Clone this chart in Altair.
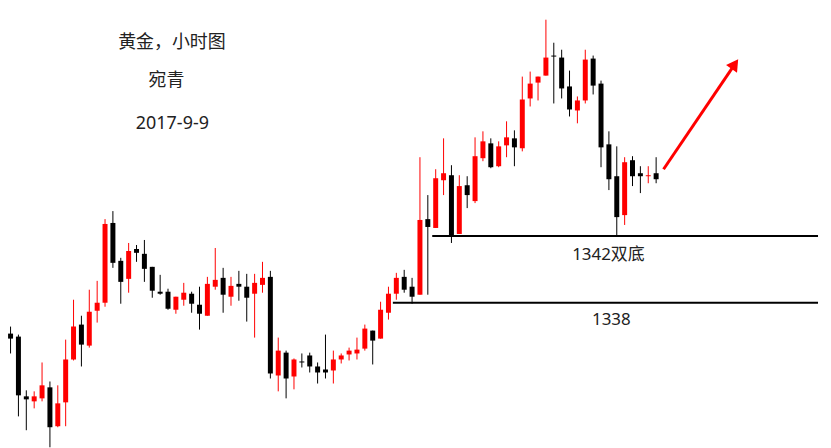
import altair as alt
import pandas as pd

# Hourly gold candles (price, USD/oz)
opens = [1336.15, 1335.97, 1332.39, 1332.09, 1332.27, 1332.93, 1330.60, 1332.03, 1334.60, 1336.69,
         1335.43, 1337.52, 1338.00, 1342.78, 1340.51, 1339.43, 1341.22, 1340.93, 1340.15, 1338.66,
         1338.66, 1337.58, 1338.18, 1338.54, 1337.88, 1337.22, 1338.96, 1339.49, 1338.36, 1339.13,
         1338.96, 1338.54, 1339.07, 1339.55, 1333.64, 1335.01, 1333.58, 1334.48, 1334.84, 1334.18,
         1334.00, 1333.94, 1334.60, 1334.90, 1334.96, 1335.25, 1336.33, 1335.85, 1337.40, 1338.54,
         1339.55, 1338.96, 1338.48, 1343.01, 1342.48, 1345.34, 1345.64, 1342.12, 1345.04, 1344.09,
         1346.66, 1347.55, 1346.18, 1347.43, 1347.85, 1347.25, 1350.24, 1351.19, 1351.61, 1352.81,
         1352.69, 1350.96, 1349.52, 1350.12, 1352.63, 1351.13, 1347.49, 1345.58, 1343.25, 1346.54,
         1345.76, 1345.58, 1345.76]
highs = [1336.57, 1336.09, 1332.75, 1332.69, 1334.42, 1333.28, 1333.05, 1335.79, 1338.18, 1337.22,
         1338.78, 1339.31, 1343.01, 1343.49, 1340.69, 1341.58, 1341.46, 1341.76, 1340.15, 1339.67,
         1338.84, 1338.36, 1339.19, 1338.66, 1338.96, 1339.55, 1341.28, 1340.09, 1339.55, 1339.91,
         1339.73, 1339.73, 1340.45, 1339.91, 1335.91, 1335.13, 1334.66, 1334.96, 1335.01, 1334.42,
         1336.09, 1335.13, 1334.96, 1335.31, 1335.91, 1336.69, 1336.33, 1338.06, 1338.96, 1339.79,
         1339.97, 1339.49, 1346.72, 1344.45, 1346.00, 1347.85, 1346.24, 1345.64, 1345.58, 1347.91,
         1348.27, 1347.85, 1347.67, 1348.87, 1348.33, 1351.55, 1351.85, 1351.55, 1354.96, 1353.58,
         1353.16, 1351.91, 1350.36, 1353.16, 1352.81, 1351.31, 1348.27, 1347.37, 1346.72, 1346.78,
         1346.18, 1346.18, 1346.72]
lows = [1334.96, 1331.19, 1330.36, 1331.67, 1332.09, 1329.34, 1330.54, 1330.60, 1334.54, 1334.18,
        1335.31, 1336.81, 1337.76, 1340.09, 1337.94, 1338.60, 1340.45, 1339.25, 1338.30, 1338.48,
        1337.58, 1337.34, 1337.82, 1337.40, 1336.39, 1337.22, 1338.78, 1337.40, 1337.82, 1338.12,
        1336.87, 1335.91, 1338.60, 1333.46, 1332.69, 1332.27, 1332.81, 1334.12, 1333.82, 1333.16,
        1333.46, 1333.16, 1334.36, 1334.54, 1334.60, 1335.13, 1334.30, 1335.85, 1336.99, 1338.18,
        1338.60, 1337.94, 1338.48, 1338.48, 1342.48, 1344.45, 1341.58, 1342.12, 1343.67, 1343.97,
        1346.48, 1346.06, 1346.12, 1346.72, 1346.18, 1347.07, 1349.76, 1350.12, 1351.61, 1349.94,
        1350.24, 1349.16, 1348.75, 1349.94, 1350.48, 1346.12, 1344.75, 1342.00, 1342.66, 1344.99,
        1344.57, 1345.16, 1345.16]
closes = [1335.85, 1332.45, 1332.21, 1332.39, 1333.05, 1330.54, 1331.97, 1334.60, 1336.57, 1335.49,
          1337.46, 1338.00, 1342.72, 1340.39, 1339.25, 1341.10, 1340.99, 1340.03, 1338.72, 1338.54,
          1337.64, 1338.36, 1338.60, 1337.94, 1337.34, 1339.13, 1339.37, 1338.48, 1339.01, 1338.96,
          1338.30, 1339.19, 1339.49, 1333.76, 1335.13, 1333.46, 1334.60, 1334.42, 1334.18, 1333.82,
          1333.82, 1334.60, 1334.84, 1335.13, 1335.19, 1336.45, 1335.73, 1337.58, 1338.54, 1339.49,
          1338.78, 1338.36, 1342.96, 1342.54, 1345.46, 1345.76, 1342.06, 1344.99, 1344.45, 1346.78,
          1347.67, 1346.12, 1347.37, 1347.91, 1347.31, 1350.18, 1351.13, 1351.55, 1352.69, 1352.75,
          1350.84, 1349.58, 1350.12, 1352.57, 1351.01, 1347.31, 1345.40, 1343.13, 1346.42, 1345.58,
          1345.58, 1345.64, 1345.40]

# support levels, the candle index where each line starts, and their labels
levels = [1342, 1338]
level_start = [54.56, 49.56]
level_labels = ["1342双底", "1338"]
label_x = [76.94, 77.31]
label_y = [1340.87, 1336.99]

# arrow (index, price) from its tail to its head
arrow_x = [83.94, 93.0]
arrow_y = [1346.00, 1352.30]

titles = ["黄金，小时图", "宛青", "2017-9-9"]

X_DOMAIN = [1.6875, 103.5625]
Y_DOMAIN = [1329.821, 1355.612]
FONT = "'Noto Sans', 'Noto Sans CJK SC', sans-serif"

df = pd.DataFrame({
    "i": list(range(1, len(opens) + 1)),
    "open": opens, "high": highs, "low": lows, "close": closes,
})
df["dir"] = ["up" if c > o else "down" for o, c in zip(opens, closes)]

xs = alt.Scale(domain=X_DOMAIN, nice=False, zero=False)
ys = alt.Scale(domain=Y_DOMAIN, nice=False, zero=False)
color = alt.Color("dir:N", scale=alt.Scale(domain=["up", "down"], range=["#ff0000", "#000000"]), legend=None)

base = alt.Chart(df)
wicks = base.mark_rule(strokeWidth=1).encode(
    x=alt.X("i:Q", scale=xs, axis=None),
    y=alt.Y("low:Q", scale=ys, axis=None),
    y2="high:Q",
    color=color,
)
bodies = base.mark_bar(size=5).encode(
    x=alt.X("i:Q", scale=xs, axis=None),
    y=alt.Y("open:Q", scale=ys, axis=None),
    y2="close:Q",
    color=color,
)

lv = pd.DataFrame({"level": levels, "start": level_start, "end": [X_DOMAIN[1]] * len(levels),
                   "label": level_labels, "lx": label_x, "ly": label_y})
lines = alt.Chart(lv).mark_rule(strokeWidth=2, color="#000000").encode(
    x=alt.X("start:Q", scale=xs, axis=None), x2="end:Q",
    y=alt.Y("level:Q", scale=ys, axis=None),
)
labels = alt.Chart(lv).mark_text(font=FONT, fontSize=17, color="#222222", align="center", baseline="middle").encode(
    x=alt.X("lx:Q", scale=xs, axis=None),
    y=alt.Y("ly:Q", scale=ys, axis=None),
    text="label:N",
)

ar = pd.DataFrame({"x0": [arrow_x[0]], "y0": [arrow_y[0]], "x1": [arrow_x[1]], "y1": [arrow_y[1]]})
arrow_line = alt.Chart(ar).mark_rule(strokeWidth=3, color="#ff0000").encode(
    x=alt.X("x0:Q", scale=xs, axis=None), x2="x1:Q",
    y=alt.Y("y0:Q", scale=ys, axis=None), y2="y1:Q",
)
arrow_head = alt.Chart(ar).mark_point(shape="triangle-up", filled=True, size=180, angle=35,
                                       color="#ff0000", opacity=1).encode(
    x=alt.X("x1:Q", scale=xs, axis=None),
    y=alt.Y("y1:Q", scale=ys, axis=None),
)

tdf = pd.DataFrame({"t": titles})
title_pos = [(161.5, 34), (156, 72), (162, 115.5)]
title_layers = []
for k, (tx, ty) in enumerate(title_pos):
    title_layers.append(
        alt.Chart(tdf.iloc[[k]]).mark_text(font=FONT, fontSize=18, color="#222222",
                                           align="center", baseline="middle").encode(
            x=alt.value(tx), y=alt.value(ty), text="t:N")
    )

chart = alt.layer(lines, wicks, bodies, labels, arrow_line, arrow_head, *title_layers).properties(
    width=815, height=432, padding=0, background="#ffffff",
).configure_view(strokeWidth=0)

chart.save("out.html", embed_options={"renderer": "svg", "actions": False})
